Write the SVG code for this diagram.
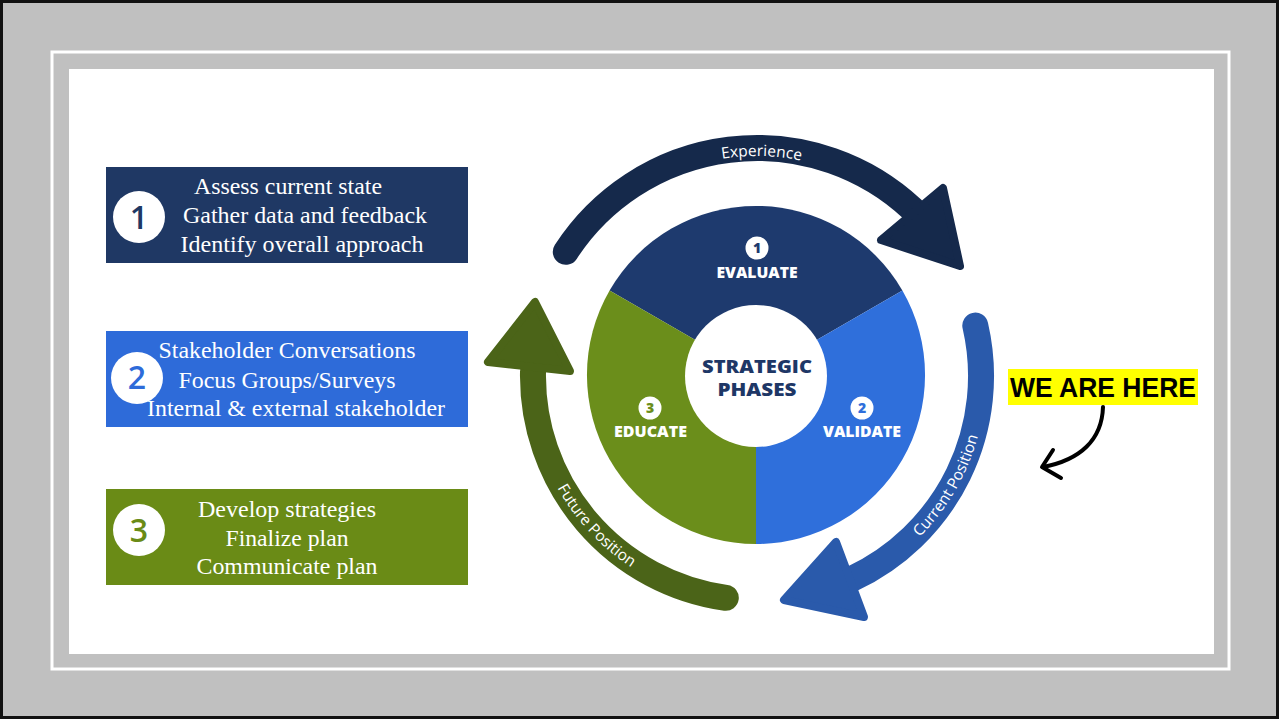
<svg xmlns="http://www.w3.org/2000/svg" width="1279" height="719" viewBox="0 0 1279 719">
<style>
.serif{font-family:"Liberation Serif","Times New Roman",serif;font-size:23px;fill:#ffffff;text-anchor:middle}
.num{font-family:"Open Sans","Liberation Sans",sans-serif;font-weight:600;font-size:32px;text-anchor:middle}
.phase{font-family:"Open Sans","Liberation Sans",sans-serif;font-weight:800;font-size:15px;fill:#ffffff;text-anchor:middle}
.pnum{font-family:"Open Sans","Liberation Sans",sans-serif;font-weight:800;font-size:14px;text-anchor:middle}
.center{font-family:"Open Sans","Liberation Sans",sans-serif;font-weight:800;font-size:17px;fill:#1e3766;text-anchor:middle}
.arc{font-family:"Open Sans","Liberation Sans",sans-serif;font-size:15.5px;fill:#ffffff;text-anchor:middle}
</style>
<defs>
<path id="pExp" d="M566.5,266 A220,220 0 0 1 947.5,266"/>
<path id="pCur" d="M717.2,601.5 A229,229 0 0 0 932.4,228.8"/>
<path id="pFut" d="M553,272 A229,229 0 0 0 846.5,586.8"/>
</defs>
<g id="frame">
<rect x="0" y="0" width="1279" height="719" fill="#c0c0c0"/>
<rect x="1.5" y="1.5" width="1276" height="716" fill="none" stroke="#111111" stroke-width="3"/>
<rect x="52" y="52" width="1177" height="617" fill="none" stroke="#ffffff" stroke-width="3"/>
<rect x="69" y="69" width="1145" height="585" fill="#ffffff"/>
</g>
<g id="box1">
<rect x="106" y="167" width="362" height="96" fill="#1f3864"/>
<circle cx="139" cy="217" r="26" fill="#ffffff"/>
<text class="num" x="139" y="229" fill="#1f3864">1</text>
<text class="serif" x="288" y="194" textLength="188" lengthAdjust="spacingAndGlyphs">Assess current state</text>
<text class="serif" x="305" y="223" textLength="244" lengthAdjust="spacingAndGlyphs">Gather data and feedback</text>
<text class="serif" x="302" y="252" textLength="243" lengthAdjust="spacingAndGlyphs">Identify overall approach</text>
</g>
<g id="box2">
<rect x="106" y="331" width="362" height="96" fill="#2e6bd9"/>
<circle cx="137" cy="378" r="26" fill="#ffffff"/>
<text class="num" x="137" y="389" fill="#2e6bd9">2</text>
<text class="serif" x="287" y="358" textLength="257" lengthAdjust="spacingAndGlyphs">Stakeholder Conversations</text>
<text class="serif" x="287" y="388" textLength="217" lengthAdjust="spacingAndGlyphs">Focus Groups/Surveys</text>
<text class="serif" x="296" y="416" textLength="298" lengthAdjust="spacingAndGlyphs">Internal &amp; external stakeholder</text>
</g>
<g id="box3">
<rect x="106" y="489" width="362" height="96" fill="#6a8b16"/>
<circle cx="139" cy="530" r="26" fill="#ffffff"/>
<text class="num" x="139" y="542" fill="#6a8b16">3</text>
<text class="serif" x="287" y="517" textLength="178" lengthAdjust="spacingAndGlyphs">Develop strategies</text>
<text class="serif" x="287" y="546" textLength="123" lengthAdjust="spacingAndGlyphs">Finalize plan</text>
<text class="serif" x="287" y="574" textLength="181" lengthAdjust="spacingAndGlyphs">Communicate plan</text>
</g>
<g id="phase-evaluate">
<path d="M756,375 L609.6,290.5 A169,169 0 0 1 902.4,290.5 Z" fill="#1e3a6e"/>
<circle cx="757" cy="248" r="11.5" fill="#ffffff"/>
<text class="pnum" x="757" y="253" fill="#1e3a6e">1</text>
<text class="phase" x="757" y="278" textLength="81" lengthAdjust="spacingAndGlyphs">EVALUATE</text>
</g>
<g id="phase-validate">
<path d="M756,375 L902.4,290.5 A169,169 0 0 1 756,544 Z" fill="#2f6fdb"/>
<circle cx="862" cy="408" r="11.5" fill="#ffffff"/>
<text class="pnum" x="862" y="413" fill="#2f6fdb">2</text>
<text class="phase" x="862" y="437" textLength="78" lengthAdjust="spacingAndGlyphs">VALIDATE</text>
</g>
<g id="phase-educate">
<path d="M756,375 L756,544 A169,169 0 0 1 609.6,290.5 Z" fill="#6b8e1b"/>
<circle cx="650" cy="408" r="11.5" fill="#ffffff"/>
<text class="pnum" x="650" y="413" fill="#6b8e1b">3</text>
<text class="phase" x="650.5" y="437" textLength="73" lengthAdjust="spacingAndGlyphs">EDUCATE</text>
</g>
<g id="center">
<circle cx="756" cy="376" r="71" fill="#ffffff"/>
<text class="center" x="757" y="373" textLength="110" lengthAdjust="spacingAndGlyphs">STRATEGIC</text>
<text class="center" x="757" y="396" textLength="79" lengthAdjust="spacingAndGlyphs">PHASES</text>
</g>
<g id="connectors">
<g id="arrow-experience">
<path d="M565.8,251.8 A228,228 0 0 1 912.5,209.3" fill="none" stroke="#15294b" stroke-width="26" stroke-linecap="round"/>
<polygon points="881,240 943,188 960,266" fill="#15294b" stroke="#15294b" stroke-width="8" stroke-linejoin="round"/>
<text class="arc" font-size="17"><textPath href="#pExp" startOffset="51%">Experience</textPath></text>
</g>
<g id="arrow-current">
<path d="M975.3,325.6 A224,224 0 0 1 851.7,579" fill="none" stroke="#2a5aab" stroke-width="26" stroke-linecap="round"/>
<polygon points="836,542 784,600 864,617" fill="#2a5aab" stroke="#2a5aab" stroke-width="8" stroke-linejoin="round"/>
<text class="arc"><textPath href="#pCur" startOffset="50%">Current Position</textPath></text>
</g>
<g id="arrow-future">
<path d="M725.8,597.8 A224,224 0 0 1 533,372.1" fill="none" stroke="#4b6418" stroke-width="26" stroke-linecap="round"/>
<polygon points="535,302 488,362 570,371" fill="#4b6418" stroke="#4b6418" stroke-width="8" stroke-linejoin="round"/>
<text class="arc"><textPath href="#pFut" startOffset="50%">Future Position</textPath></text>
</g>
</g>
<g id="we-are-here">
<rect x="1008" y="369" width="190" height="36" fill="#ffff00"/>
<text x="1103" y="397" font-family="'Liberation Sans',Arial,sans-serif" font-weight="bold" font-size="28" fill="#000000" text-anchor="middle" textLength="186" lengthAdjust="spacingAndGlyphs">WE ARE HERE</text>
<path d="M1103,407 C1102,440 1080,460 1043,467" fill="none" stroke="#000000" stroke-width="4" stroke-linecap="round"/>
<path d="M1053,450 L1042,467 L1061,478" fill="none" stroke="#000000" stroke-width="4" stroke-linecap="round" stroke-linejoin="round"/>
</g>
</svg>
